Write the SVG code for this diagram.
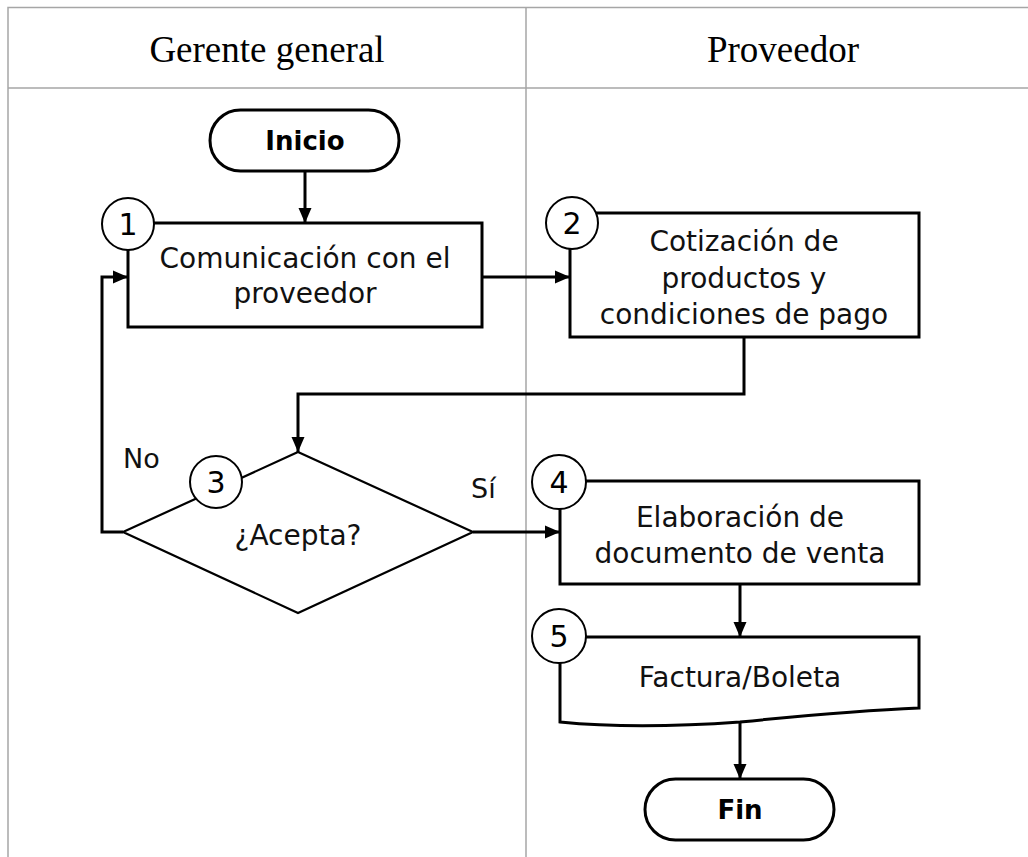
<svg xmlns="http://www.w3.org/2000/svg" width="1028" height="857" viewBox="0 0 1028 857">
<defs>
<marker id="arr" markerUnits="userSpaceOnUse" markerWidth="16" markerHeight="16" viewBox="0 0 16 16" refX="15" refY="8" orient="auto">
<path d="M0,1.5 L15,8 L0,14.5 Z" fill="#000"/>
</marker>
<style>
.grid{stroke:#a6a6a6;stroke-width:1.5;fill:none}
.hdr{font-family:"Liberation Serif",serif;font-size:37px;fill:#000;text-anchor:middle}
.box{fill:#fff;stroke:#000;stroke-width:3}
.dia{fill:#fff;stroke:#000;stroke-width:2.2}
.num{fill:#fff;stroke:#000;stroke-width:2}
.t{font-family:"DejaVu Sans",sans-serif;font-size:28px;fill:#111;text-anchor:middle}
.b{font-family:"DejaVu Sans",sans-serif;font-size:26px;font-weight:bold;fill:#000;text-anchor:middle}
.n{font-family:"DejaVu Sans",sans-serif;font-size:30px;fill:#000;text-anchor:middle}
.con{fill:none;stroke:#000;stroke-width:3;marker-end:url(#arr)}
.lbl{font-family:"DejaVu Sans",sans-serif;font-size:27px;fill:#111}
</style>
</defs>
<rect width="1028" height="857" fill="#fff"/>
<g id="table">
<path class="grid" d="M8,857 V7.5 H1028 M8,88 H1028 M526,7.5 V857"/>
<text class="hdr" x="267" y="62">Gerente general</text>
<text class="hdr" x="783" y="62">Proveedor</text>
</g>
<g id="connectors">
<path class="con" d="M305,171 V223"/>
<path class="con" d="M482,277 H570"/>
<path class="con" d="M744,337 V394 H298 V452"/>
<path class="con" d="M473,532 H560"/>
<path class="con" d="M123,532 H102 V277 H128"/>
<path class="con" d="M740,584 V637"/>
<path class="con" d="M740,723 V779"/>
</g>
<g id="inicio">
<rect class="box" x="210" y="110" width="189" height="61" rx="30.5" stroke-width="2.5"/>
<text class="b" x="305" y="150">Inicio</text>
</g>
<g id="step1">
<rect class="box" x="128" y="223" width="354" height="104"/>
<text class="t" x="305" y="268">Comunicación con el</text>
<text class="t" x="305" y="303">proveedor</text>
<circle class="num" cx="128" cy="224" r="26"/>
<text class="n" x="128" y="235">1</text>
</g>
<g id="step2">
<rect class="box" x="570" y="213" width="349" height="124"/>
<text class="t" x="744" y="251">Cotización de</text>
<text class="t" x="744" y="288">productos y</text>
<text class="t" x="744" y="324">condiciones de pago</text>
<circle class="num" cx="572" cy="223" r="26"/>
<text class="n" x="572" y="234">2</text>
</g>
<g id="step3">
<polygon class="dia" points="298,452 473,532 298,613 123,532"/>
<text class="t" x="298" y="545" font-size="25">¿Acepta?</text>
<circle class="num" cx="216" cy="482" r="26"/>
<text class="n" x="216" y="493">3</text>
</g>
<text class="lbl" x="123" y="468">No</text>
<text class="lbl" x="471" y="498">Sí</text>
<g id="step4">
<rect class="box" x="560" y="481" width="359" height="103"/>
<text class="t" x="740" y="527">Elaboración de</text>
<text class="t" x="740" y="563">documento de venta</text>
<circle class="num" cx="559" cy="482" r="27"/>
<text class="n" x="559" y="493">4</text>
</g>
<g id="step5">
<path class="box" d="M560,637 H919 V708 C870,710 800,716 740,722 C670,727 610,727 560,722 Z"/>
<text class="t" x="740" y="687">Factura/Boleta</text>
<circle class="num" cx="559" cy="636" r="27"/>
<text class="n" x="559" y="647">5</text>
</g>
<g id="fin">
<rect class="box" x="645" y="779" width="189" height="61" rx="30.5" stroke-width="2.5"/>
<text class="b" x="740" y="819">Fin</text>
</g>
</svg>
